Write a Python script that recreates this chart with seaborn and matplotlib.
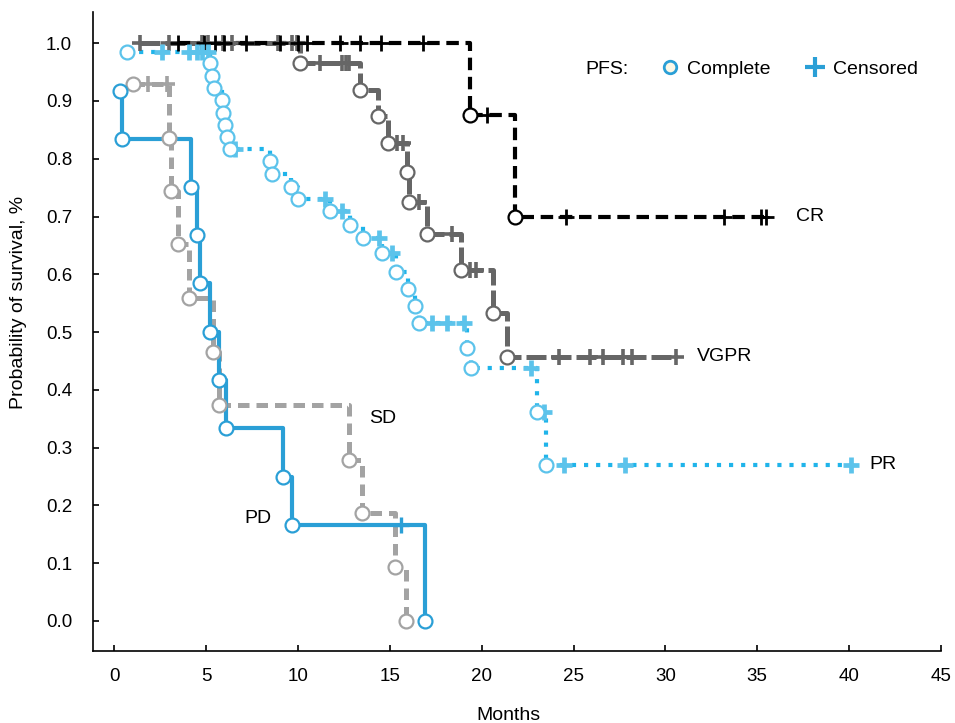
import numpy as np
import seaborn as sns
import matplotlib.pyplot as plt
from matplotlib import font_manager
from matplotlib.lines import Line2D
from matplotlib.ticker import FormatStrFormatter

# values (months, survival fraction)
cr_event_t = [19.35, 21.8]
cr_event_s = [0.875, 0.70]
cr_cens_t = [3.5, 4.9, 5.5, 6.0, 7.2, 9.0, 10.0, 10.5, 12.3, 13.4, 14.5, 16.8,
             20.3, 24.6, 33.2, 35.2, 35.5]

vgpr_event_t = [10.1, 13.4, 14.35, 14.9, 15.95, 16.05, 17.05, 18.9, 20.6, 21.4]
vgpr_event_s = [0.965, 0.919, 0.874, 0.827, 0.777, 0.725, 0.670, 0.607, 0.533, 0.457]
vgpr_cens_t = [1.4, 3.0, 4.8, 5.1, 5.9, 6.4, 8.9, 9.7, 9.95, 11.2, 12.4, 12.6, 12.8,
               15.4, 15.7, 16.6, 18.4, 19.35, 19.7, 24.2, 25.9, 26.6, 27.7, 28.2, 30.6]

pr_event_t = [0.7, 5.2, 5.3, 5.45, 5.85, 5.95, 6.05, 6.15, 6.3, 8.5, 8.6, 9.6, 10.0,
              11.75, 12.85, 13.55, 14.6, 15.35, 16.0, 16.4, 16.6, 19.2, 19.4, 23.0, 23.5]
pr_event_s = [0.984, 0.965, 0.943, 0.922, 0.901, 0.880, 0.858, 0.837, 0.817, 0.796,
              0.773, 0.751, 0.730, 0.709, 0.685, 0.663, 0.637, 0.604, 0.574, 0.545,
              0.516, 0.472, 0.437, 0.361, 0.270]
pr_cens_t = [2.6, 4.1, 4.5, 4.8, 5.1, 6.6, 11.5, 12.4, 14.4, 15.1, 17.3, 18.1, 19.05,
             22.7, 23.4, 24.5, 27.8, 40.1]

sd_event_t = [1.0, 3.0, 3.1, 3.5, 4.1, 5.4, 5.7, 12.8, 13.5, 15.3, 15.9]
sd_event_s = [0.929, 0.836, 0.744, 0.652, 0.559, 0.465, 0.374, 0.279, 0.187, 0.093, 0.0]
sd_cens_t = [1.85, 2.9]

pd_event_t = [0.33, 0.45, 4.2, 4.5, 4.7, 5.2, 5.7, 6.1, 9.2, 9.7, 16.9]
pd_event_s = [0.917, 0.834, 0.751, 0.668, 0.585, 0.5, 0.417, 0.334, 0.249, 0.166, 0.0]
pd_cens_t = [15.6]

group_labels = ['CR', 'VGPR', 'PR', 'SD', 'PD']

sns.set_theme(style='ticks', rc={'text.color': 'black', 'axes.labelcolor': 'black',
                                 'xtick.color': 'black', 'ytick.color': 'black'})
names = {f.name for f in font_manager.fontManager.ttflist}
fam = 'Liberation Sans Narrow' if 'Liberation Sans Narrow' in names else 'Liberation Sans'
plt.rcParams['font.family'] = [fam, 'DejaVu Sans']


def km_path(ev_t, ev_s, ce_t):
    ev_t = np.asarray(ev_t, float)
    ev_s = np.asarray(ev_s, float)
    ce_t = np.asarray(ce_t, float)
    idx = np.searchsorted(ev_t, ce_t, side='right') - 1
    ce_s = np.where(idx >= 0, ev_s[np.clip(idx, 0, None)], 1.0)
    t = np.concatenate([ev_t, ce_t])
    s = np.concatenate([ev_s, ce_s])
    order = np.argsort(t, kind='stable')
    return t[order], s[order], ce_s


fig = plt.figure(figsize=(9.55, 7.23), dpi=100)
ax = fig.add_axes([93 / 955, 1 - 651 / 723, 848 / 955, 639 / 723])

# (event t, event s, censored t, line colour, marker colour, dashes, lw, cross mew)
series = [
    (vgpr_event_t, vgpr_event_s, vgpr_cens_t, '#666666', '#666666', (0, (4.0, 1.0)), 3.6, 2.6),
    (cr_event_t, cr_event_s, cr_cens_t, 'black', 'black', (0, (3.0, 1.6)), 3.0, 2.0),
    (sd_event_t, sd_event_s, sd_cens_t, '#a3a3a3', '#a3a3a3', (0, (2.3, 1.4)), 3.6, 2.6),
    (pd_event_t, pd_event_s, pd_cens_t, '#2a9fd6', '#2a9fd6', '-', 3.0, 2.4),
    (pr_event_t, pr_event_s, pr_cens_t, '#1fb4ea', '#5cc3eb', (0, (1.0, 1.9)), 3.0, 3.4),
]

for ev_t, ev_s, ce_t, lc, mc, ls, lw, cmew in series:
    t, s, ce_s = km_path(ev_t, ev_s, ce_t)
    sns.lineplot(x=t, y=s, ax=ax, color=lc, linestyle=ls, linewidth=lw,
                 drawstyle='steps-post', estimator=None, sort=False, zorder=2)
    ax.plot(ce_t, ce_s, ls='none', marker='+', ms=12, mew=cmew, color=mc, zorder=3)
    ax.plot(ev_t, ev_s, ls='none', marker='o', ms=10, mew=1.6, mfc='white',
            mec=mc, zorder=4)

# group labels
ax.text(37.1, 0.70, group_labels[0], va='center', fontsize=14)
ax.text(31.7, 0.457, group_labels[1], va='center', fontsize=14)
ax.text(41.1, 0.27, group_labels[2], va='center', fontsize=14)
ax.text(13.9, 0.351, group_labels[3], va='center', fontsize=14)
ax.text(7.1, 0.178, group_labels[4], va='center', fontsize=14)

ax.set_xlim(-1.15, 45)
ax.set_ylim(-0.052, 1.054)
ax.set_xticks(np.arange(0, 46, 5))
ax.set_yticks(np.arange(0, 1.01, 0.1))
ax.yaxis.set_major_formatter(FormatStrFormatter('%.1f'))
ax.tick_params(direction='in', length=4, width=1.2, colors='black', labelsize=13.5)
ax.tick_params(axis='y', pad=15)
ax.tick_params(axis='x', pad=12)
for side in ['top', 'right']:
    ax.spines[side].set_visible(False)
for side in ['left', 'bottom']:
    ax.spines[side].set_color('black')
    ax.spines[side].set_linewidth(1.2)

ax.set_xlabel('Months', fontsize=14)
ax.set_ylabel('Probability of survival, %', fontsize=14)
ax.xaxis.set_label_coords(0.49, -0.088)
ax.yaxis.set_label_coords(-0.078, 0.545)

handles = [
    Line2D([], [], ls='none', marker='o', ms=9, mfc='#fdf8e6', mec='#2a9fd6', mew=2),
    Line2D([], [], ls='none', marker='+', ms=14, mec='#2a9fd6', mew=3),
]
ax.legend(handles, ['Complete', 'Censored'], ncol=2, loc='center left',
          bbox_to_anchor=(660 / 955, 1 - 69 / 723), bbox_transform=fig.transFigure,
          frameon=False, handlelength=1.0, handletextpad=0.4, columnspacing=1.8,
          borderpad=0, borderaxespad=0, fontsize=14)
fig.text(585 / 955, 1 - 69 / 723, 'PFS:', va='center', fontsize=14)

fig.savefig('out.png', dpi=100)
